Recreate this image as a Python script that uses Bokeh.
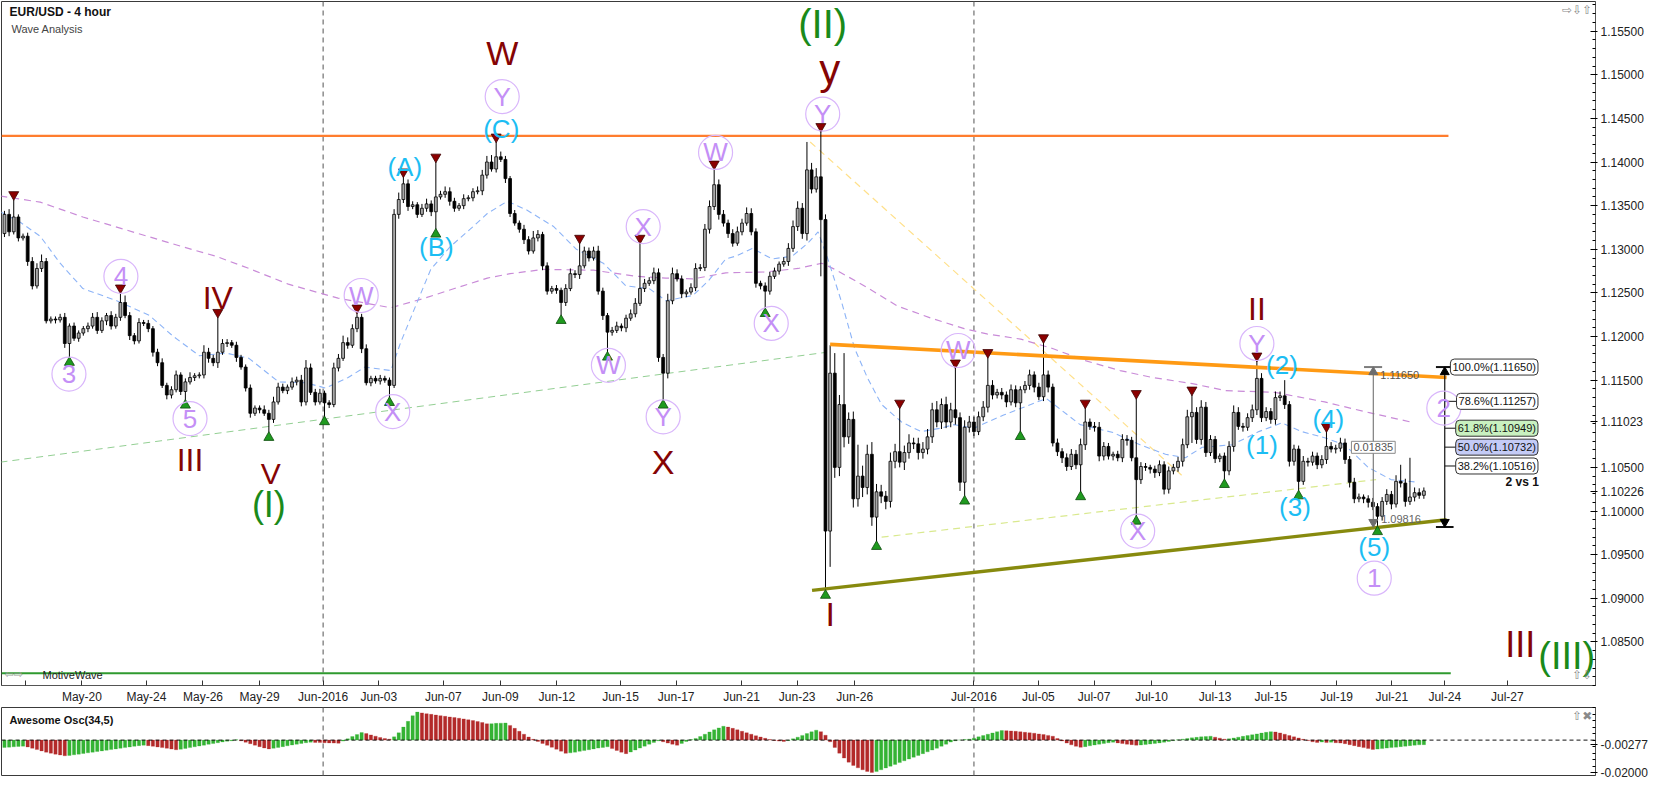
from bokeh.plotting import figure
from bokeh.models import ColumnDataSource, Range1d, FixedTicker, PrintfTickFormatter, Span, Label
from bokeh.layouts import column
from bokeh.embed import file_html
from bokeh.resources import INLINE
from bokeh.core.properties import value, field

FONT = "Liberation Sans"

# ---------------- data (EUR/USD 4-hour bars) ----------------
first_open = 1.1318
close = [
    1.1340, 1.1320, 1.1337, 1.1313, 1.1315, 1.1286, 1.1258, 1.1278, 1.1286, 1.1218,
    1.1220, 1.1219, 1.1222, 1.1192, 1.1212, 1.1198, 1.1204, 1.1209, 1.1212, 1.1222,
    1.1207, 1.1218, 1.1224, 1.1212, 1.1222, 1.1239, 1.1224, 1.1201, 1.1195, 1.1216,
    1.1215, 1.1209, 1.1182, 1.1170, 1.1144, 1.1133, 1.1139, 1.1156, 1.1137, 1.1148,
    1.1153, 1.1155, 1.1156, 1.1182, 1.1175, 1.1170, 1.1182, 1.1192, 1.1193, 1.1190,
    1.1176, 1.1165, 1.1141, 1.1112, 1.1118, 1.1116, 1.1112, 1.1105, 1.1125, 1.1142,
    1.1138, 1.1142, 1.1148, 1.1150, 1.1125, 1.1164, 1.1136, 1.1125, 1.1135, 1.1124,
    1.1122, 1.1164, 1.1175, 1.1193, 1.1190, 1.1209, 1.1222, 1.1186, 1.1147, 1.1152,
    1.1149, 1.1152, 1.1150, 1.1144, 1.1340, 1.1357, 1.1375, 1.1349, 1.1351, 1.1340,
    1.1347, 1.1352, 1.1343, 1.1360, 1.1363, 1.1366, 1.1355, 1.1347, 1.1350, 1.1358,
    1.1359, 1.1366, 1.1367, 1.1385, 1.1400, 1.1392, 1.1406, 1.1403, 1.1381, 1.1341,
    1.1330, 1.1323, 1.1311, 1.1298, 1.1313, 1.1317, 1.1281, 1.1252, 1.1255, 1.1253,
    1.1239, 1.1255, 1.1272, 1.1271, 1.1281, 1.1298, 1.1290, 1.1298, 1.1252, 1.1224,
    1.1205, 1.1207, 1.1212, 1.1210, 1.1221, 1.1226, 1.1238, 1.1255, 1.1261, 1.1264,
    1.1273, 1.1176, 1.1158, 1.1241, 1.1272, 1.1266, 1.1249, 1.1251, 1.1256, 1.1278,
    1.1279, 1.1323, 1.1349, 1.1374, 1.1340, 1.1330, 1.1318, 1.1307, 1.1320, 1.1330,
    1.1341, 1.1320, 1.1261, 1.1258, 1.1252, 1.1269, 1.1275, 1.1283, 1.1286, 1.1301,
    1.1326, 1.1347, 1.1318, 1.1391, 1.1369, 1.1383, 1.1334, 1.0977, 1.1158, 1.1050,
    1.1122, 1.1085, 1.1105, 1.1014, 1.1040, 1.1027, 1.1065, 1.0993, 1.1022, 1.1017,
    1.1011, 1.1057, 1.1068, 1.1056, 1.1067, 1.1078, 1.1077, 1.1067, 1.1071, 1.1085,
    1.1116, 1.1102, 1.1122, 1.1102, 1.1116, 1.1107, 1.1033, 1.1096, 1.1102, 1.1091,
    1.1108, 1.1119, 1.1144, 1.1133, 1.1136, 1.1133, 1.1125, 1.1139, 1.1124, 1.1139,
    1.1144, 1.1156, 1.1142, 1.1131, 1.1156, 1.1142, 1.1078, 1.1068, 1.1061, 1.1051,
    1.1065, 1.1053, 1.1076, 1.1102, 1.1097, 1.1096, 1.1063, 1.1074, 1.1063, 1.1065,
    1.1061, 1.1082, 1.1081, 1.1061, 1.1036, 1.1051, 1.1050, 1.1048, 1.1044, 1.1053,
    1.1025, 1.1046, 1.1050, 1.1057, 1.1076, 1.1108, 1.1113, 1.1082, 1.1119, 1.1067,
    1.1082, 1.1060, 1.1063, 1.1046, 1.1074, 1.1113, 1.1097, 1.1096, 1.1107, 1.1116,
    1.1152, 1.1107, 1.1114, 1.1105, 1.1130, 1.1132, 1.1122, 1.1057, 1.1071, 1.1034,
    1.1057, 1.1056, 1.1063, 1.1053, 1.1059, 1.1074, 1.1071, 1.1072, 1.1078, 1.1059,
    1.1033, 1.1014, 1.1016, 1.1014, 1.1010, 1.1005, 1.0994, 1.1011, 1.1019, 1.1008,
    1.1034, 1.1032, 1.1011, 1.1016, 1.1021, 1.1018, 1.1023,
]
upper_wick_pips = [
    4, 6, 20, 3, 3, 4, 5, 6, 8, 4,
    3, 3, 4, 5, 3, 4, 3, 3, 4, 5,
    6, 4, 3, 5, 4, 11, 8, 4, 3, 5,
    3, 4, 3, 4, 5, 3, 4, 5, 3, 4,
    6, 3, 3, 8, 5, 4, 40, 5, 4, 3,
    4, 3, 3, 4, 3, 3, 5, 4, 6, 5,
    4, 3, 5, 4, 6, 9, 5, 4, 5, 3,
    3, 6, 5, 8, 6, 5, 5, 4, 5, 3,
    3, 4, 3, 3, 6, 8, 8, 5, 4, 3,
    5, 6, 4, 40, 4, 6, 5, 4, 3, 5,
    3, 4, 5, 6, 7, 8, 17, 6, 4, 3,
    4, 3, 5, 4, 8, 5, 3, 4, 3, 4,
    3, 5, 6, 4, 26, 5, 4, 5, 6, 4,
    3, 4, 5, 3, 4, 5, 6, 52, 5, 4,
    6, 5, 4, 8, 7, 5, 4, 3, 5, 6,
    4, 6, 7, 18, 6, 5, 4, 5, 6, 5,
    7, 6, 4, 3, 4, 5, 4, 3, 5, 6,
    7, 8, 6, 32, 8, 10, 52, 6, 32, 23,
    11, 59, 8, 9, 36, 12, 11, 14, 9, 8,
    6, 10, 9, 50, 8, 10, 6, 7, 8, 9,
    8, 10, 7, 9, 8, 48, 6, 8, 7, 6,
    6, 7, 32, 6, 4, 5, 4, 6, 5, 4,
    5, 6, 4, 5, 37, 5, 4, 5, 4, 5,
    6, 5, 7, 16, 4, 5, 6, 5, 4, 3,
    4, 6, 5, 4, 68, 5, 4, 3, 4, 5,
    4, 5, 4, 5, 7, 8, 20, 6, 8, 6,
    5, 4, 3, 4, 6, 8, 6, 4, 5, 6,
    20, 6, 5, 4, 7, 5, 18, 4, 5, 4,
    6, 4, 5, 4, 5, 17, 5, 4, 6, 5,
    4, 5, 4, 3, 4, 5, 4, 5, 6, 4,
    7, 19, 5, 45, 6, 5, 4,
]
lower_wick_pips = [
    4, 5, 3, 4, 3, 5, 4, 3, 4, 3,
    3, 4, 3, 5, 16, 3, 4, 3, 4, 3,
    4, 3, 5, 4, 3, 4, 3, 5, 4, 3,
    3, 4, 5, 4, 3, 5, 4, 3, 4, 10,
    3, 4, 3, 4, 5, 4, 6, 3, 4, 3,
    5, 3, 4, 5, 3, 4, 3, 15, 4, 3,
    3, 4, 3, 4, 5, 4, 3, 4, 3, 16,
    4, 3, 4, 3, 4, 3, 4, 5, 3, 4,
    3, 4, 3, 14, 3, 5, 4, 5, 3, 4,
    3, 4, 5, 20, 3, 4, 5, 4, 3, 4,
    3, 4, 3, 5, 4, 3, 4, 3, 5, 4,
    3, 4, 5, 4, 3, 4, 5, 4, 3, 4,
    15, 4, 3, 4, 5, 3, 4, 3, 4, 5,
    23, 4, 3, 4, 5, 3, 4, 3, 4, 3,
    4, 5, 31, 6, 4, 3, 5, 4, 3, 4,
    3, 4, 5, 4, 6, 4, 5, 4, 3, 4,
    3, 4, 5, 4, 20, 4, 3, 4, 3, 5,
    4, 5, 6, 8, 5, 4, 65, 68, 41, 12,
    10, 12, 8, 10, 9, 11, 8, 10, 28, 8,
    9, 7, 8, 6, 9, 7, 6, 8, 7, 6,
    7, 6, 8, 7, 6, 8, 10, 16, 6, 5,
    4, 5, 6, 5, 4, 5, 6, 4, 5, 33,
    4, 5, 6, 4, 5, 6, 4, 5, 6, 5,
    4, 5, 31, 6, 4, 5, 6, 5, 4, 5,
    4, 5, 6, 4, 42, 5, 4, 5, 6, 4,
    6, 5, 4, 5, 6, 4, 30, 5, 6, 5,
    4, 5, 4, 10, 5, 6, 4, 5, 4, 5,
    6, 5, 4, 5, 6, 4, 5, 6, 5, 11,
    4, 5, 4, 5, 4, 5, 4, 5, 4, 5,
    6, 5, 4, 5, 6, 4, 12, 5, 4, 6,
    4, 5, 6, 4, 5, 4, 4,
]
# Awesome Oscillator (34,5), in units of 0.0001
ao_x1e4 = [
    -45, -43, -41, -39, -37, -42, -50, -58, -66, -74,
    -80, -86, -91, -96, -94, -90, -86, -82, -78, -74,
    -70, -66, -62, -58, -54, -50, -46, -42, -38, -34,
    -31, -34, -38, -42, -46, -50, -55, -59, -56, -51,
    -46, -41, -36, -31, -26, -21, -16, -11, -7, -4,
    2, -4, -13, -22, -31, -40, -48, -54, -50, -45,
    -40, -35, -30, -25, -20, -16, -13, -14, -15, -16,
    -17, -18, -19, -6, 8, 22, 34, 46, 40, 32,
    24, 16, 10, 6, 20, 45, 80, 115, 150, 172,
    167, 162, 158, 154, 150, 146, 142, 138, 134, 130,
    125, 120, 114, 108, 100, 101, 103, 104, 105, 90,
    72, 54, 36, 19, 5, -8, -20, -32, -44, -56,
    -68, -81, -78, -74, -69, -64, -59, -54, -49, -45,
    -41, -52, -63, -74, -83, -73, -61, -49, -37, -25,
    -14, -4, -10, -18, -25, -31, -20, -8, 3, 10,
    22, 36, 50, 63, 75, 85, 80, 72, 63, 54,
    45, 36, 27, 19, 11, 4, -2, -6, -8, -3,
    8, 18, 29, 40, 51, 61, 52, 30, -10, -45,
    -80, -110, -135, -155, -170, -182, -192, -198, -193, -182,
    -171, -160, -149, -138, -127, -116, -105, -94, -83, -72,
    -61, -50, -38, -25, -12, -4, 1, 4, 6, 12,
    20, 28, 36, 44, 52, 59, 58, 56, 54, 51,
    48, 45, 42, 38, 34, 29, 24, 10, -5, -18,
    -29, -38, -44, -40, -35, -30, -25, -20, -16, -13,
    -17, -21, -25, -28, -31, -30, -27, -24, -20, -17,
    -13, -8, -3, 2, 6, 10, 14, 17, 20, 22,
    24, 18, 12, 6, 9, 13, 18, 23, 28, 33,
    38, 43, 48, 52, 50, 44, 36, 28, 20, 13,
    5, -3, -10, -14, -12, -15, -13, -16, -18, -22,
    -28, -34, -40, -46, -52, -57, -55, -52, -49, -46,
    -43, -40, -37, -34, -31, -29, -28,
]

pivot_high_bars = [2, 25, 46, 76, 86, 93, 106, 124, 137, 153, 176, 193, 205, 212, 224, 233, 244, 256, 270, 285]
pivot_low_bars = [14, 39, 57, 69, 83, 93, 120, 130, 142, 164, 177, 188, 207, 219, 232, 244, 263, 279, 296]

blue_ma_bars = [-0.9, 3.4, 7.7, 12.0, 16.9, 24.2, 31.3, 36.2, 42.0, 47.8, 52.7, 59.1, 64.9, 69.2, 74.1, 77.7,
                83.3, 85.4, 88.4, 91.9, 96.1, 100.4, 104.1, 108.4, 112.6, 118.4, 123.3, 129.1, 134.0, 139.0,
                142.6, 148.4, 151.8, 155.5, 157.6, 161.2, 165.5, 169.8, 173.2, 175.4, 177.5, 180.5, 183.3,
                186.1, 189.1, 193.4, 197.6, 201.9, 204.7, 209.0, 215.4, 224.6, 231.9, 239.0, 244.8, 250.3,
                254.6, 258.2, 264.7, 270.4, 275.4, 279.7, 284.6, 288.9, 294.0, 298.9, 304.7]
blue_ma_prices = [1.1343, 1.1331, 1.1315, 1.1284, 1.1255, 1.1241, 1.1224, 1.1201, 1.1178, 1.1181, 1.1175,
                  1.1148, 1.1147, 1.1141, 1.1153, 1.1165, 1.1161, 1.1193, 1.1232, 1.1277, 1.1303, 1.1323,
                  1.1341, 1.1355, 1.1345, 1.1326, 1.1300, 1.1284, 1.1258, 1.1255, 1.1241, 1.1247, 1.1264,
                  1.1289, 1.1292, 1.1301, 1.1289, 1.1292, 1.1307, 1.1320, 1.1289, 1.1239, 1.1186, 1.1152,
                  1.1122, 1.1102, 1.1091, 1.1095, 1.1099, 1.1095, 1.1110, 1.1129, 1.1099, 1.1090, 1.1076,
                  1.1065, 1.1061, 1.1073, 1.1076, 1.1091, 1.1101, 1.1091, 1.1084, 1.1076, 1.1050, 1.1036,
                  1.1033]
purple_ma_bars = [-0.9, 7.7, 16.9, 27.6, 38.3, 45.6, 52.7, 61.2, 71.9, 83.3, 90.6, 97.0, 104.1, 109.0, 116.3,
                  127.0, 136.2, 142.6, 148.4, 155.5, 164.0, 171.1, 176.2, 179.0, 185.4, 192.5, 199.8, 206.9,
                  211.8, 219.1, 226.1, 233.2, 240.5, 247.5, 256.1, 263.2, 273.9, 284.6, 294.0, 303.2]
purple_ma_prices = [1.1361, 1.1354, 1.1337, 1.1320, 1.1303, 1.1292, 1.1278, 1.1260, 1.1244, 1.1233, 1.1244,
                    1.1255, 1.1267, 1.1272, 1.1277, 1.1276, 1.1269, 1.1267, 1.1266, 1.1273, 1.1274, 1.1278,
                    1.1284, 1.1277, 1.1258, 1.1235, 1.1221, 1.1209, 1.1203, 1.1197, 1.1186, 1.1172, 1.1161,
                    1.1153, 1.1146, 1.1138, 1.1136, 1.1125, 1.1113, 1.1102]

# trend / level lines: [start, end] in bars and prices
resistance_bars, resistance_prices = [-0.64, 311.3], [1.1430, 1.1430]
support_bars, support_prices = [-0.64, 311.8], [1.0814, 1.0814]
upper_tri_bars, upper_tri_prices = [178.0, 310.9], [1.1191, 1.1153]
lower_tri_bars, lower_tri_prices = [174.1, 310.9], [1.0909, 1.0990]
green_dash_bars, green_dash_prices = [-0.86, 177.3], [1.1056, 1.1182]
yellow_dash_bars, yellow_dash_prices = [173.7, 254.0], [1.1423, 1.1040]
lime_dash_bars, lime_dash_prices = [189.1, 295.7], [1.0970, 1.1036]

# x axis (bar positions of the date ticks)
tick_bars = [4.5, 16.7, 30.6, 42.8, 55.0, 68.7, 80.7, 94.6, 106.9, 119.1, 132.8, 144.8, 158.9, 170.9, 183.3,
             209.0, 222.9, 234.9, 247.3, 261.0, 273.0, 287.2, 299.1, 310.5, 324.0]
tick_labels = ["", "May-20", "May-24", "May-26", "May-29", "Jun-2016", "Jun-03", "Jun-07", "Jun-09", "Jun-12",
               "Jun-15", "Jun-17", "Jun-21", "Jun-23", "Jun-26", "Jul-2016", "Jul-05", "Jul-07", "Jul-10",
               "Jul-13", "Jul-15", "Jul-19", "Jul-21", "Jul-24", "Jul-27"]
month_bars = [68.7, 209.0]

# price-axis ticks (1.11000 is covered by the 1.11023 value tag) and value tags
price_ticks = [1.085, 1.090, 1.095, 1.100, 1.105, 1.115, 1.120, 1.125, 1.130, 1.135, 1.140,
               1.145, 1.150, 1.155]
price_tags = [1.11023, 1.10226]
osc_ticks = [-0.02]
osc_tag = -0.00277

# wave labels
maroon_text = ["W", "y", "IV", "III", "V", "X", "I", "II", "III"]
maroon_bar = [107.3, 177.9, 46.0, 40.0, 57.4, 142.0, 178.0, 270.0, 326.8]
maroon_price = [1.1525, 1.1506, 1.1244, 1.1059, 1.1043, 1.1056, 1.0882, 1.1232, 1.0847]
maroon_size = ["34px", "42px", "32px", "32px", "30px", "34px", "34px", "32px", "36px"]
green_text = ["(II)", "(I)", "(III)"]
green_bar = [176.4, 57.0, 336.8]
green_price = [1.1558, 1.1008, 1.0834]
green_size = ["40px", "36px", "38px"]
purple_text = ["3", "4", "5", "W", "X", "Y", "W", "X", "Y", "W", "X", "Y", "W", "X", "Y", "2", "1"]
purple_bar = [13.9, 25.1, 40.0, 76.9, 83.7, 107.3, 130.2, 137.7, 142.0, 153.3, 165.3, 176.4, 205.6, 244.3,
              270.0, 310.3, 295.3]
purple_price = [1.1157, 1.1269, 1.1106, 1.1247, 1.1114, 1.1475, 1.1167, 1.1326, 1.1108, 1.1411, 1.1215,
                1.1455, 1.1184, 1.0977, 1.1192, 1.1118, 1.0923]
cyan_text = ["(A)", "(B)", "(C)", "(1)", "(2)", "(3)", "(4)", "(5)"]
cyan_bar = [86.3, 93.1, 107.1, 271.1, 275.4, 278.2, 285.4, 295.3]
cyan_price = [1.1394, 1.1303, 1.1438, 1.1076, 1.1167, 1.1005, 1.1105, 1.0959]

# Fibonacci retracement tool and price-range measure
fib_levels = [1.11650, 1.11257, 1.10949, 1.10732, 1.10516]
fib_texts = ["100.0%(1.11650)", "78.6%(1.11257)", "61.8%(1.10949)", "50.0%(1.10732)", "38.2%(1.10516)"]
fib_fills = ["white", "white", "#c9f1c0", "#c4cbf6", "white"]
fib_low = 1.09816
fib_bar = 310.5
measure_bar = 295.1
measure_high, measure_low, measure_range = 1.11650, 1.09816, "0.01835"

# ---------------- geometry ----------------
FW = 1594
MAIN_FH = 684
OSC_FH = 68
X0, X1 = -0.64, 343.0
Y_MIN, Y_MAX = 1.0800, 1.1584
px = (Y_MAX - Y_MIN) / MAIN_FH          # price per screen pixel

n = min(len(close), len(upper_wick_pips), len(lower_wick_pips))
xs = list(range(n))
opens = [first_open] + close[:n - 1]
highs = [max(o, c) + u / 1e4 for o, c, u in zip(opens, close, upper_wick_pips)]
lows = [min(o, c) - l / 1e4 for o, c, l in zip(opens, close, lower_wick_pips)]
up = [c >= o for o, c in zip(opens, close)]

src = ColumnDataSource(dict(
    x=xs, high=highs, low=lows,
    top=[max(o, c) for o, c in zip(opens, close)],
    bottom=[min(o, c) for o, c in zip(opens, close)],
    fill=["#a8a8a8" if u else "#000000" for u in up],
))

p = figure(frame_width=FW, frame_height=MAIN_FH, x_range=Range1d(X0, X1), y_range=Range1d(Y_MIN, Y_MAX),
           y_axis_location="right", output_backend="svg", toolbar_location=None,
           min_border_left=1, min_border_right=56, min_border_top=1, min_border_bottom=0,
           outline_line_color="#3a3a3a", background_fill_color="white", border_fill_color="white")
p.grid.visible = False

for b in month_bars:
    p.add_layout(Span(location=b, dimension="height", line_color="#7a7a7a", line_dash="5 4",
                      line_width=1.3, level="underlay"))

# lines
p.line(green_dash_bars, green_dash_prices, line_color="#93cf93", line_dash="7 5", line_width=1)
p.line(yellow_dash_bars, yellow_dash_prices, line_color="#ffe08a", line_dash="7 5", line_width=1.2)
p.line(lime_dash_bars, lime_dash_prices, line_color="#d9e98e", line_dash="7 5", line_width=1.2)
p.line(purple_ma_bars, purple_ma_prices, line_color="#c98bd8", line_dash="7 5", line_width=1.2)
p.line(blue_ma_bars, blue_ma_prices, line_color="#8db4f7", line_dash="6 4", line_width=1.1)
p.line(resistance_bars, resistance_prices, line_color="#ff7d2e", line_width=2.2)
p.line(support_bars, support_prices, line_color="#2f9a2f", line_width=2)

# candles
p.segment(x0="x", y0="high", x1="x", y1="low", line_color="#000000", line_width=1, source=src)
p.vbar(x="x", width=0.62, top="top", bottom="bottom", fill_color="fill", line_color="#000000",
       line_width=0.8, source=src)

p.line(upper_tri_bars, upper_tri_prices, line_color="#ff9a14", line_width=3.6)
p.line(lower_tri_bars, lower_tri_prices, line_color="#878a0e", line_width=3.4)

# pivot markers
p.scatter(pivot_high_bars, [highs[b] + 5 * px for b in pivot_high_bars], marker="inverted_triangle",
          size=10, fill_color="#8b0000", line_color="#3b0000", line_width=0.8)
p.scatter(pivot_low_bars, [lows[b] - 5 * px for b in pivot_low_bars], marker="triangle",
          size=10, fill_color="#1f9a1f", line_color="#0b4a0b", line_width=0.8)

# measure tool (grey)
p.segment(x0=[measure_bar], y0=[measure_high], x1=[measure_bar], y1=[measure_low], line_color="#7d7d7d", line_width=1.2)
p.segment(x0=[measure_bar - 2.0], y0=[measure_high], x1=[measure_bar + 1.9], y1=[measure_high],
          line_color="#7d7d7d", line_width=2)
p.scatter([measure_bar], [measure_high - 5 * px], marker="triangle", size=9, fill_color="#6d6d6d", line_color="#6d6d6d")
p.scatter([measure_bar], [measure_low + 5 * px], marker="inverted_triangle", size=9, fill_color="#6d6d6d", line_color="#6d6d6d")
p.add_layout(Label(x=measure_bar + 1.5, y=measure_high - 8 * px, text="1.11650", text_font=FONT,
                   text_font_size="11px", text_color="#555555", text_baseline="middle"))
p.add_layout(Label(x=measure_bar + 1.7, y=measure_low + 8 * px, text="1.09816", text_font=FONT,
                   text_font_size="11px", text_color="#666666", text_baseline="middle"))
p.add_layout(Label(x=measure_bar, y=1.1073, text=measure_range, text_font=FONT, text_font_size="11px",
                   text_color="#555555", text_align="center", text_baseline="middle",
                   background_fill_color="white", border_line_color="#8a8a8a", padding=2))

# Fibonacci tool (black)
p.segment(x0=[fib_bar], y0=[fib_levels[0]], x1=[fib_bar], y1=[fib_low], line_color="#111111", line_width=1.2)
p.segment(x0=[fib_bar - 1.9, fib_bar - 1.9], y0=[fib_levels[0], fib_low], x1=[fib_bar + 1.9, fib_bar + 1.9],
          y1=[fib_levels[0], fib_low], line_color="#111111", line_width=2)
p.scatter([fib_bar], [fib_levels[0] - 5 * px], marker="triangle", size=9, fill_color="black", line_color="black")
p.scatter([fib_bar], [fib_low + 5 * px], marker="inverted_triangle", size=9, fill_color="black", line_color="black")
p.segment(x0=[fib_bar] * len(fib_levels), y0=fib_levels, x1=[fib_bar + 4.8] * len(fib_levels), y1=fib_levels,
          line_color="#111111", line_width=1)
for lvl, txt, fc in zip(fib_levels, fib_texts, fib_fills):
    p.add_layout(Label(x=330.6, y=lvl, text=txt, text_font=FONT, text_font_size="11px", text_color="#111111",
                       text_align="right", text_baseline="middle", background_fill_color=fc,
                       border_line_color="#333333", border_line_width=1, padding=2, border_radius=4))
p.add_layout(Label(x=330.8, y=1.1033, text="2 vs 1", text_font=FONT, text_font_size="12px",
                   text_font_style="bold", text_color="#111111", text_align="right", text_baseline="middle"))

# wave labels
def text_layer(txt, bars, prices, sizes, color):
    s = ColumnDataSource(dict(x=bars, y=prices, t=txt, s=sizes))
    p.text(x="x", y="y", text="t", source=s, text_font=value(FONT), text_font_size=field("s"),
           text_color=color, text_align="center", text_baseline="middle")

p.scatter(purple_bar, purple_price, marker="circle", size=34, fill_color=None, line_color="#d9b6fb", line_width=1.2)
text_layer(purple_text, purple_bar, purple_price, ["26px"] * len(purple_text), "#c48ff6")
text_layer(cyan_text, cyan_bar, cyan_price, ["26px"] * len(cyan_text), "#1cbdf3")
text_layer(maroon_text, maroon_bar, maroon_price, maroon_size, "#850404")
text_layer(green_text, green_bar, green_price, green_size, "#1a8a1a")

# chart captions & icons
p.add_layout(Label(x=1.1, y=1.15716, text="EUR/USD - 4 hour", text_font=FONT, text_font_size="12px",
                   text_font_style="bold", text_color="#111111", text_baseline="middle"))
p.add_layout(Label(x=1.5, y=1.15523, text="Wave Analysis", text_font=FONT, text_font_size="11px",
                   text_color="#444444", text_baseline="middle"))
p.add_layout(Label(x=342.3, y=1.15748, text="⇨⇩⇧", text_font="DejaVu Sans", text_font_size="12px",
                   text_color="#8a8a8a", text_align="right", text_baseline="middle"))
p.add_layout(Label(x=0.0, y=1.08125, text="⇦⇨", text_font="DejaVu Sans", text_font_size="11px",
                   text_color="#9a9a9a", text_baseline="middle"))
p.add_layout(Label(x=8.2, y=1.08125, text="MotiveWave", text_font=FONT, text_font_size="11px",
                   text_color="#222222", text_baseline="middle"))
p.add_layout(Label(x=342.3, y=1.08118, text="⇧⇩", text_font="DejaVu Sans", text_font_size="12px",
                   text_color="#8a8a8a", text_align="right", text_baseline="middle"))

# axes
p.xaxis.ticker = FixedTicker(ticks=tick_bars, minor_ticks=[])
p.xaxis.major_label_overrides = {b: t for b, t in zip(tick_bars, tick_labels)}
p.xaxis.major_label_text_font = FONT
p.xaxis.major_label_text_font_size = "12px"
p.xaxis.major_label_text_color = "#222222"
p.xaxis.major_tick_in = 5
p.xaxis.major_tick_out = 0
p.xaxis.major_label_standoff = 4
p.xaxis.axis_line_color = "#555555"
p.xaxis.major_tick_line_color = "#333333"

p.yaxis.ticker = FixedTicker(ticks=price_ticks + price_tags,
                             minor_ticks=[round(1.080 + 0.001 * k, 3) for k in range(80)])
p.yaxis.formatter = PrintfTickFormatter(format="%.5f")
p.yaxis.major_label_text_font = FONT
p.yaxis.major_label_text_font_size = "12px"
p.yaxis.major_label_text_color = "#222222"
p.yaxis.major_tick_in = 5
p.yaxis.major_tick_out = 2
p.yaxis.minor_tick_in = 3
p.yaxis.minor_tick_out = 0
p.yaxis.major_label_standoff = 3
p.yaxis.axis_line_color = "#555555"

# ---------------- Awesome oscillator panel ----------------
ao = [v / 1e4 for v in ao_x1e4[:n]]
ao_col = ["#34b334" if (i == 0 or ao[i] >= ao[i - 1]) else "#b32a2a" for i in range(len(ao))]
osrc = ColumnDataSource(dict(x=list(range(len(ao))), top=ao, c=ao_col))

po = figure(frame_width=FW, frame_height=OSC_FH, x_range=p.x_range, y_range=Range1d(-0.0217, 0.02),
            y_axis_location="right", x_axis_location=None, output_backend="svg", toolbar_location=None,
            min_border_left=1, min_border_right=56, min_border_top=1, min_border_bottom=6,
            outline_line_color="#3a3a3a", background_fill_color="white", border_fill_color="white")
po.grid.visible = False
for b in month_bars:
    po.add_layout(Span(location=b, dimension="height", line_color="#7a7a7a", line_dash="5 4",
                       line_width=1.3, level="underlay"))
po.vbar(x="x", width=0.72, top="top", bottom=0, fill_color="c", line_color="c", line_alpha=0.45,
        line_width=0.6, source=osrc)
po.add_layout(Span(location=0, dimension="width", line_color="#111111", line_dash="4 3", line_width=1))
po.add_layout(Label(x=1.1, y=0.0122, text="Awesome Osc(34,5)", text_font=FONT, text_font_size="11px",
                    text_font_style="bold", text_color="#111111", text_baseline="middle"))
po.add_layout(Label(x=342.3, y=0.0150, text="⇧✖", text_font="DejaVu Sans", text_font_size="12px",
                    text_color="#8a8a8a", text_align="right", text_baseline="middle"))
po.yaxis.ticker = FixedTicker(ticks=osc_ticks + [osc_tag],
                              minor_ticks=[round(-0.02 + 0.004 * k, 3) for k in range(11)])
po.yaxis.formatter = PrintfTickFormatter(format="%.5f")
po.yaxis.major_label_text_font = FONT
po.yaxis.major_label_text_font_size = "12px"
po.yaxis.major_label_text_color = "#222222"
po.yaxis.major_tick_in = 5
po.yaxis.major_tick_out = 2
po.yaxis.minor_tick_in = 3
po.yaxis.minor_tick_out = 0
po.yaxis.major_label_standoff = 3
po.yaxis.axis_line_color = "#555555"

layout = column(p, po, spacing=0)
open("out.html", "w").write(file_html(layout, INLINE, title="EUR/USD - 4 hour"))
